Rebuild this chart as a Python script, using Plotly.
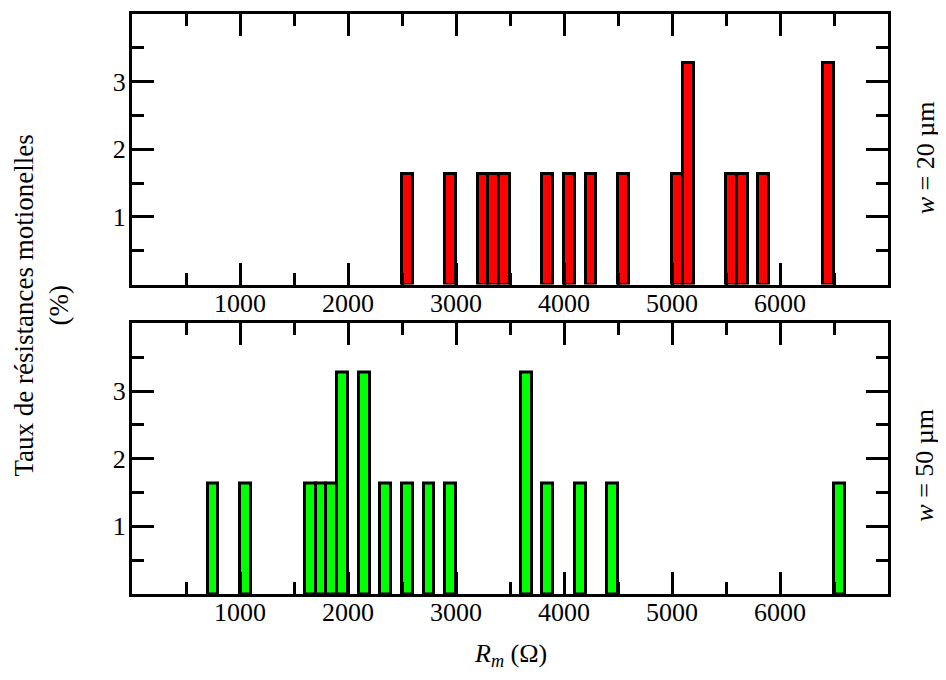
import plotly.graph_objects as go

# Bin start values (Ohm) and percentages
bin_width = 100
top_bins = [2500, 2900, 3200, 3300, 3400, 3800, 4000, 4200, 4500, 5000, 5100, 5500, 5600, 5800, 6400]
top_vals = [1.64, 1.64, 1.64, 1.64, 1.64, 1.64, 1.64, 1.64, 1.64, 1.64, 3.28, 1.64, 1.64, 1.64, 3.28]
bot_bins = [700, 1000, 1600, 1700, 1800, 1900, 2100, 2300, 2500, 2700, 2900, 3600, 3800, 4100, 4400, 6500]
bot_vals = [1.64, 1.64, 1.64, 1.64, 1.64, 3.28, 3.28, 1.64, 1.64, 1.64, 1.64, 3.28, 1.64, 1.64, 1.64, 1.64]
x_ticks = [1000, 2000, 3000, 4000, 5000, 6000]
y_ticks = [1, 2, 3]
panel_labels = ["<i>w</i> = 20 µm", "<i>w</i> = 50 µm"]

FONT = "Liberation Serif"

fig = go.Figure()
fig.add_trace(go.Bar(
    x=[b + bin_width / 2 for b in top_bins], y=top_vals, width=bin_width,
    marker=dict(color="#ff0000", line=dict(color="black", width=3)),
    xaxis="x", yaxis="y", showlegend=False))
fig.add_trace(go.Bar(
    x=[b + bin_width / 2 for b in bot_bins], y=bot_vals, width=bin_width,
    marker=dict(color="#00ff00", line=dict(color="black", width=3)),
    xaxis="x2", yaxis="y2", showlegend=False))

# page has an 8px body margin; figure placed so it lines up with the window
OFF = 8
W, H = 946 - OFF, 680 - 2 * OFF
refL, refR, refT, refB = 132, 888, 11, 594
L = refL - OFF
R = W - (refR - OFF)
T = refT - OFF
B = H - (refB - OFF)
ph = H - T - B
pw = W - L - R
top_dom = [(refB - 283) / ph, 1.0]
bot_dom = [0.0, (refB - 322) / ph]

xcommon = dict(range=[0, 7000], tickmode="array", tickvals=x_ticks,
               ticktext=[str(v) for v in x_ticks],
               ticks="inside", ticklen=22, tickwidth=3, tickcolor="black",
               showline=True, linewidth=3, linecolor="black", mirror="ticks",
               showgrid=False, zeroline=False, ticklabelstandoff=-7,
               minor=dict(tickvals=[500, 1500, 2500, 3500, 4500, 5500, 6500],
                          ticks="inside", ticklen=12, tickwidth=3, tickcolor="black", showgrid=False),
               tickfont=dict(family=FONT, size=26, color="black"))
ycommon = dict(range=[0, 4], tickmode="array", tickvals=y_ticks,
               ticktext=[str(v) for v in y_ticks],
               ticks="inside", ticklen=22, tickwidth=3, tickcolor="black",
               showline=True, linewidth=3, linecolor="black", mirror="ticks",
               showgrid=False, zeroline=False, ticklabelstandoff=-2,
               minor=dict(tickvals=[0.5, 1.5, 2.5, 3.5],
                          ticks="inside", ticklen=12, tickwidth=3, tickcolor="black", showgrid=False),
               tickfont=dict(family=FONT, size=26, color="black"))

fig.update_layout(
    width=W, height=H,
    margin=dict(l=L, r=R, t=T, b=B),
    paper_bgcolor="white", plot_bgcolor="white",
    bargap=0,
    font=dict(family=FONT, size=26, color="black"),
    xaxis=dict(domain=[0, 1], anchor="y", **xcommon),
    yaxis=dict(domain=top_dom, anchor="x", **ycommon),
    xaxis2=dict(domain=[0, 1], anchor="y2", **xcommon),
    yaxis2=dict(domain=bot_dom, anchor="x2", **ycommon),
)

annos = [
    dict(text="Taux de résistances motionelles<br>(%)", x=(41 - refL) / pw, y=(refB - 304) / ph,
         textangle=-90, font=dict(family=FONT, size=27, color="black")),
    dict(text="<i>R</i><sub><i>m</i></sub> (Ω)", x=0.5, y=(refB - 655) / ph,
         font=dict(family=FONT, size=26, color="black")),
    dict(text=panel_labels[0], x=(925 - refL) / pw, y=(refB - 155) / ph, textangle=-90,
         font=dict(family=FONT, size=26, color="black")),
    dict(text=panel_labels[1], x=(925 - refL) / pw, y=(refB - 464) / ph, textangle=-90,
         font=dict(family=FONT, size=26, color="black")),
]
for a in annos:
    fig.add_annotation(xref="paper", yref="paper", showarrow=False,
                       xanchor="center", yanchor="middle", **a)

fig.write_html("out.html")
